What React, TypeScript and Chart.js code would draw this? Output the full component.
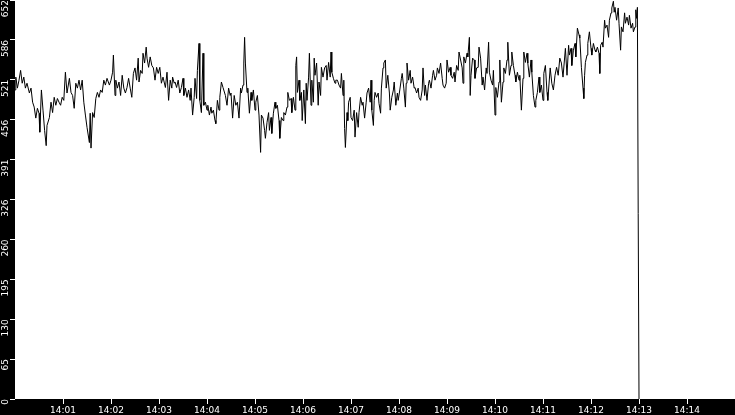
import { useEffect, useRef } from "react";
import { Chart, registerables } from "chart.js";

Chart.register(...registerables);

// Samples: seconds after 14:00:00 and the measured value
const segment1Seconds = [0, 1, 3, 5, 7, 9, 11, 13, 15, 18, 20, 22, 24, 26, 28, 30, 31, 33, 35, 37, 39, 40, 43, 45, 47, 49, 51, 53, 55, 57, 59, 61, 63, 65, 68, 70, 72, 74, 76, 78, 80, 82, 84, 86, 88, 90, 93, 94, 95, 97, 99, 101, 103, 105, 107, 109, 111, 113, 115, 118, 120, 122, 123, 125, 126, 128, 130, 132, 134, 136];
const segment1Values = [505, 526, 508, 521, 537, 516, 526, 508, 516, 500, 508, 485, 477, 459, 475, 467, 436, 505, 472, 439, 414, 447, 460, 485, 468, 493, 480, 491, 485, 480, 493, 488, 534, 500, 524, 501, 496, 475, 516, 508, 521, 505, 521, 485, 464, 444, 419, 467, 410, 468, 460, 491, 501, 493, 505, 501, 521, 513, 524, 513, 521, 534, 562, 496, 521, 508, 518, 496, 529, 508];

const segment2Seconds = [138, 140, 142, 144, 146, 148, 150, 152, 154, 155, 157, 159, 160, 162, 164, 165, 167, 169, 171, 173, 175, 177, 179, 181, 183, 185, 188, 190, 192, 194, 196, 197, 199, 200, 202, 204, 206, 208, 210, 211, 213, 215, 217, 219, 220, 222, 224, 225, 227, 228, 230, 231, 233, 235, 236, 238, 240, 241, 243, 245, 246, 248, 250, 251, 253, 255, 256, 258, 260, 263, 265, 267, 269];
const segment2Values = [500, 509, 524, 508, 493, 532, 541, 521, 557, 518, 537, 532, 565, 549, 575, 557, 542, 559, 545, 541, 521, 542, 532, 542, 516, 526, 509, 534, 488, 521, 508, 526, 516, 518, 509, 521, 500, 509, 524, 496, 508, 493, 505, 488, 508, 464, 493, 524, 491, 537, 581, 488, 468, 565, 480, 485, 472, 480, 464, 477, 467, 472, 455, 450, 488, 472, 493, 518, 509, 496, 480, 508, 496];

const segment3Seconds = [270, 272, 274, 276, 278, 280, 282, 283, 285, 286, 287, 288, 290, 291, 293, 295, 296, 298, 300, 301, 303, 305, 307, 308, 310, 312, 313, 315, 317, 318, 320, 321, 323, 325, 326, 328, 330, 331, 333, 335, 336, 338, 340, 341, 343, 345, 346, 348, 350, 351, 352, 353, 355, 356, 358, 359, 361, 363, 364, 365, 367, 368, 370, 371, 373, 374, 375, 377, 379, 380, 382, 383, 385, 387, 389, 390, 392, 394, 395, 396, 398, 400, 401];
const segment3Values = [500, 459, 496, 480, 485, 459, 508, 500, 513, 549, 591, 549, 501, 508, 467, 501, 488, 505, 472, 485, 496, 464, 403, 464, 459, 439, 426, 452, 468, 439, 460, 434, 467, 485, 475, 480, 455, 426, 460, 455, 468, 464, 477, 501, 488, 491, 468, 493, 472, 545, 559, 501, 521, 488, 501, 455, 505, 450, 516, 488, 526, 565, 480, 521, 485, 557, 529, 549, 480, 518, 496, 542, 526, 541, 545, 521, 550, 526, 567, 534, 524, 516, 521];

const segment4Seconds = [403, 405, 407, 408, 410, 411, 412, 413, 415, 416, 417, 419, 420, 422, 424, 425, 427, 429, 430, 432, 434, 435, 437, 439, 440, 442, 444, 445, 446, 448, 449, 450, 452, 454, 455, 457, 458, 460, 461, 463, 464, 466, 468, 469, 471, 473, 474, 476, 478, 479, 481, 483, 484, 486, 488, 489, 490, 492, 494, 495, 497, 499, 500, 502, 504, 505, 507, 509, 510, 512, 513, 515, 517, 518, 520, 522, 523, 525, 527, 528, 530, 532, 534];
const segment4Values = [521, 513, 508, 532, 496, 521, 442, 411, 468, 455, 485, 493, 460, 455, 472, 428, 468, 444, 468, 493, 480, 485, 459, 485, 500, 508, 485, 521, 472, 447, 488, 501, 493, 500, 483, 467, 508, 541, 549, 554, 508, 529, 500, 472, 493, 505, 518, 480, 500, 488, 505, 524, 532, 508, 477, 516, 549, 521, 537, 516, 526, 508, 509, 500, 508, 493, 488, 505, 541, 496, 513, 488, 516, 521, 508, 529, 537, 521, 529, 541, 532, 549, 524];

const segment5Seconds = [535, 537, 539, 540, 542, 544, 545, 547, 549, 550, 552, 554, 555, 557, 559, 560, 561, 563, 565, 566, 568, 569, 570, 572, 574, 575, 577, 579, 580, 582, 584, 585, 587, 589, 590, 592, 593, 595, 597, 598, 600, 601, 603, 605, 606, 608, 610, 611, 613, 615, 616, 618, 620, 621, 623, 625, 626, 628, 630, 631, 633, 635, 636, 638, 640, 641, 643, 645, 646, 648, 650, 651, 653, 655, 656, 658, 660, 661, 663, 665, 666];
const segment5Values = [513, 508, 516, 554, 534, 542, 529, 524, 534, 518, 545, 537, 567, 554, 541, 516, 559, 549, 565, 559, 591, 496, 529, 557, 554, 524, 541, 542, 575, 557, 513, 526, 505, 541, 532, 583, 534, 521, 513, 537, 464, 509, 493, 518, 554, 485, 518, 541, 532, 554, 583, 529, 545, 567, 545, 529, 518, 534, 521, 529, 472, 524, 567, 550, 565, 549, 526, 554, 534, 496, 477, 488, 501, 526, 501, 513, 488, 532, 545, 501, 488];

const segment6Seconds = [669, 671, 673, 675, 677, 679, 681, 683, 685, 688, 690, 692, 693, 695, 696, 698, 700, 701, 703, 705, 706, 708, 710, 711, 712, 713, 715, 716, 718, 720, 721, 723, 725, 726, 728, 730, 731, 732, 734, 735, 737, 738, 740, 742, 743, 745, 746, 748, 749, 750, 752, 754, 755, 757, 758, 760, 762, 763, 765, 767, 768, 770, 772, 773, 775, 776, 777, 778];
const segment6Values = [541, 516, 505, 529, 542, 529, 557, 549, 526, 573, 529, 578, 562, 573, 545, 570, 581, 559, 606, 595, 590, 542, 508, 491, 529, 550, 562, 581, 600, 573, 562, 581, 570, 567, 575, 565, 532, 578, 583, 575, 619, 606, 611, 591, 619, 631, 639, 650, 632, 640, 619, 639, 614, 570, 608, 600, 631, 614, 624, 611, 627, 606, 614, 600, 608, 636, 622, 640];

const dropSeconds = [779, 780];
const dropValues = [303, 0];

const xTickLabels = ["14:01", "14:02", "14:03", "14:04", "14:05", "14:06", "14:07", "14:08", "14:09", "14:10", "14:11", "14:12", "14:13", "14:14"];
const yTickLabels = ["0", "65", "130", "195", "260", "326", "391", "456", "521", "586", "652"];
const yMax = 652;
const xMaxSeconds = 900;

export default function App() {
  const canvasRef = useRef<HTMLCanvasElement>(null);

  useEffect(() => {
    const seconds = [
      ...segment1Seconds, ...segment2Seconds, ...segment3Seconds,
      ...segment4Seconds, ...segment5Seconds, ...segment6Seconds, ...dropSeconds,
    ];
    const values = [
      ...segment1Values, ...segment2Values, ...segment3Values,
      ...segment4Values, ...segment5Values, ...segment6Values, ...dropValues,
    ];
    const points = seconds.map((s, i) => ({ x: s, y: values[i] }));

    const backgroundPlugin = {
      id: "panelBackground",
      beforeDraw(chart: any) {
        const { ctx, chartArea, width, height } = chart;
        ctx.save();
        ctx.fillStyle = "#000000";
        ctx.fillRect(0, 0, width, height);
        ctx.fillStyle = "#ffffff";
        ctx.fillRect(chartArea.left, chartArea.top, chartArea.right - chartArea.left, chartArea.bottom - chartArea.top);
        ctx.restore();
      },
    };

    const font = { family: "'DejaVu Sans', sans-serif", size: 9 };

    const chart = new Chart(canvasRef.current!, {
      type: "line",
      data: {
        datasets: [
          {
            data: points,
            borderColor: "#000000",
            borderWidth: 1,
            pointRadius: 0,
            tension: 0,
            fill: false,
          },
        ],
      },
      options: {
        animation: false,
        responsive: true,
        maintainAspectRatio: false,
        layout: { padding: 0 },
        plugins: {
          legend: { display: false },
          tooltip: { enabled: false },
        },
        scales: {
          x: {
            type: "linear",
            min: 0,
            max: xMaxSeconds,
            afterBuildTicks: (scale: any) => {
              scale.ticks = xTickLabels.map((_, i) => ({ value: (i + 1) * 60 }));
            },
            afterFit: (scale: any) => {
              scale.height = 16;
              scale.paddingLeft = 0;
              scale.paddingRight = 0;
            },
            ticks: {
              autoSkip: false,
              maxRotation: 0,
              minRotation: 0,
              color: "#ffffff",
              font,
              padding: 1,
              callback: (_v: any, i: number) => xTickLabels[i],
            },
            grid: { drawOnChartArea: false, color: "#ffffff", tickLength: 5, lineWidth: 1 },
            border: { display: false },
          },
          y: {
            type: "linear",
            min: 0,
            max: yMax,
            afterBuildTicks: (scale: any) => {
              scale.ticks = yTickLabels.map((_, i) => ({ value: (i * yMax) / (yTickLabels.length - 1) }));
            },
            afterFit: (scale: any) => {
              scale.width = 15;
              scale.paddingTop = 0;
              scale.paddingBottom = 0;
            },
            ticks: {
              autoSkip: false,
              minRotation: 90,
              maxRotation: 90,
              color: "#ffffff",
              font,
              padding: 4,
              callback: (_v: any, i: number) => yTickLabels[i],
            },
            grid: { drawOnChartArea: false, color: "#ffffff", tickLength: 5, lineWidth: 1 },
            border: { display: false },
          },
        },
      },
      plugins: [backgroundPlugin],
    });

    return () => chart.destroy();
  }, []);

  return (
    <div style={{ position: "fixed", left: 0, top: 0, width: 735, height: 415 }}>
      <canvas ref={canvasRef} />
    </div>
  );
}
